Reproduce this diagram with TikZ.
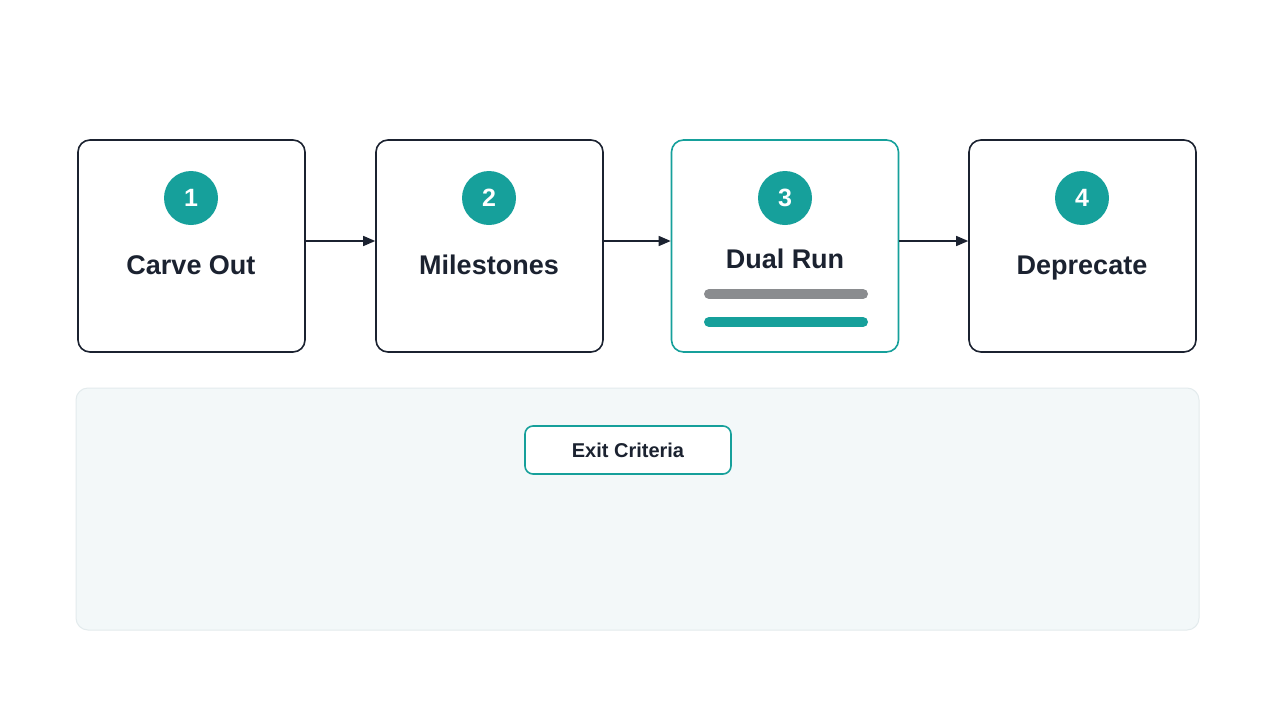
\documentclass[tikz,border=0pt]{standalone}
\usepackage{fontspec}
\setmainfont{Liberation Sans}
\usetikzlibrary{arrows.meta}

\definecolor{ink}{HTML}{1B2230}
\definecolor{teal}{HTML}{16A09B}
\definecolor{bar}{HTML}{8A8C8F}
\definecolor{panel}{HTML}{F3F8F9}
\definecolor{panelline}{HTML}{E3EBED}

\begin{document}
\begin{tikzpicture}[x=1pt,y=-1pt,
    stage/.style={draw=ink, line width=1.6pt, fill=white, rounded corners=12pt,
        minimum width=227pt, minimum height=212pt},
    num/.style={circle, fill=teal, text=white, minimum size=54pt, inner sep=0pt,
        font=\fontsize{25}{25}\selectfont\bfseries},
    title/.style={anchor=base, text=ink, font=\fontsize{27}{27}\selectfont\bfseries},
    arr/.style={-{Triangle[length=12pt,width=10pt]}, draw=ink, fill=ink, line width=1.4pt}]
\useasboundingbox[fill=white] (0,0) rectangle (1279,720);

% Stages
\node[stage] (carve) at (191.5,246) {};
\node[stage] (miles) at (489.5,246) {};
\node[stage, draw=teal] (dual) at (785,246) {};
\node[stage] (depr) at (1082.5,246) {};

% Numbers
\node[num] (n1) at (191,198) {1};
\node[num] (n2) at (489,198) {2};
\node[num] (n3) at (785,198) {3};
\node[num] (n4) at (1082,198) {4};

% Titles
\node[title] (t1) at (191,274) {Carve Out};
\node[title] (t2) at (489,274) {Milestones};
\node[title] (t3) at (785,268) {Dual Run};
\node[title] (t4) at (1082,274) {Deprecate};

% Bars
\draw[bar, line width=10pt, line cap=round] (709,294) -- (863,294);
\draw[teal, line width=10pt, line cap=round] (709,322) -- (863,322);

% Arrows
\draw[arr] ([yshift=5pt]carve.east) -- ([yshift=5pt]miles.west);
\draw[arr] ([yshift=5pt]miles.east) -- ([yshift=5pt]dual.west);
\draw[arr] ([yshift=5pt]dual.east) -- ([yshift=5pt]depr.west);

% Panel
\node[draw=panelline, fill=panel, line width=1pt, rounded corners=12pt,
    minimum width=1123pt, minimum height=242pt] (panel) at (637.5,509) {};
\node[draw=teal, fill=white, line width=1.6pt, rounded corners=8pt,
    minimum width=206pt, minimum height=48pt, text=ink,
    font=\fontsize{20}{20}\selectfont\bfseries] (exit) at (628,450) {Exit Criteria};

\end{tikzpicture}
\end{document}
